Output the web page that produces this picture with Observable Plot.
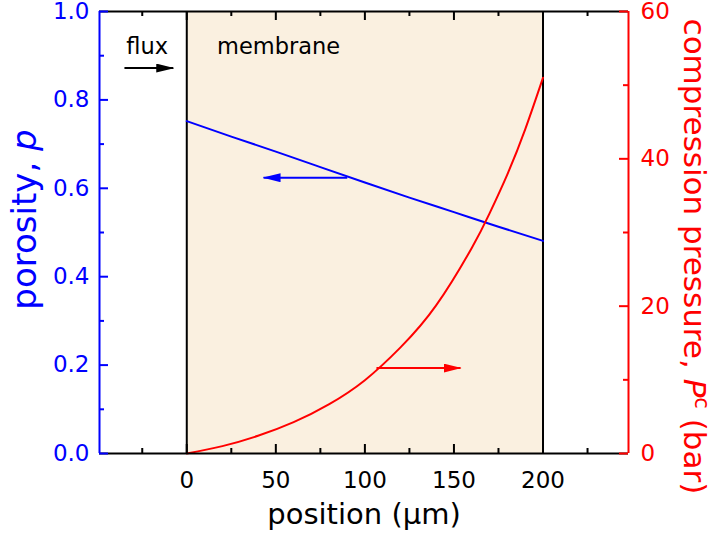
<!DOCTYPE html>
<html><head><meta charset="utf-8">
<script src="https://cdn.jsdelivr.net/npm/d3@7"></script>
<script src="https://cdn.jsdelivr.net/npm/@observablehq/plot@0.6"></script>
<style>
body{margin:0;background:#fff}
#chart svg{display:block}
</style>
</head><body><div id="chart"></div>
<script>
// ---- data ----
const positionDomain = [-49, 248];
const porosityDomain = [0, 1];
const pressureMax = 60;
const membraneEdges = [0, 200];
const porosityX = [0, 25, 50, 75, 100, 125, 150, 175, 200];
const porosityY = [0.752, 0.717, 0.683, 0.648, 0.613, 0.579, 0.546, 0.513, 0.481];
const pressureX = [0, 20, 40, 60, 80, 100, 120, 140, 160, 170, 180, 190, 200];
const pressureY = [0, 1.0, 2.4, 4.25, 6.7, 9.95, 14.4, 20.1, 27.9, 32.6, 37.9, 44.0, 51.0];
const xMajor = [0, 50, 100, 150, 200];
const xMinor = [-25, 25, 75, 125, 175, 225];
const yLeftMajor = [0, 0.2, 0.4, 0.6, 0.8, 1.0];
const yLeftMinor = [0.1, 0.3, 0.5, 0.7, 0.9];
const yRightMajor = [0, 20, 40, 60];
const yRightMinor = [10, 30, 50];
const labelX = "position (μm)";
const labelLeft = "porosity, p";
const labelRight = "compression pressure, Pc (bar)";
const notes = [
  {x: -34, y: 0.921, text: "flux"},
  {x: 17, y: 0.921, text: "membrane"}
];
const arrowFlux = {x1: -35, x2: -7.6, p: 0.872};
const arrowPorosity = {x1: 90.1, x2: 43.1, p: 0.624};
const arrowPressure = {x1: 106.5, x2: 153.7, P: 11.6};

// ---- layout ----
const W = 713, H = 537, mL = 99, mR = 85, mT = 11, mB = 84;
const frameW = W - mL - mR, frameH = H - mT - mB;
const MAJOR = 9, MINOR = 5;

// ---- build ----
const porosity = porosityX.map((x, i) => ({x, y: porosityY[i]}));
const pressure = pressureX.map((x, i) => ({x, y: pressureY[i] / pressureMax}));
const arrows = [
  {x1: arrowFlux.x1, x2: arrowFlux.x2, y: arrowFlux.p, c: "black"},
  {x1: arrowPorosity.x1, x2: arrowPorosity.x2, y: arrowPorosity.p, c: "blue"},
  {x1: arrowPressure.x1, x2: arrowPressure.x2, y: arrowPressure.P / pressureMax, c: "red"}
];

function triangle(color, context) {
  const m = d3.create("svg:marker")
    .attr("viewBox", "0 -4.5 18 9")
    .attr("markerWidth", 18).attr("markerHeight", 9)
    .attr("markerUnits", "userSpaceOnUse")
    .attr("refX", 17).attr("refY", 0)
    .attr("orient", "auto")
    .attr("fill", color).attr("stroke", "none");
  m.append("path").attr("d", "M0,-4.5L18,0L0,4.5Z");
  return m.node();
}

const tx = (vals, len, side) => Plot.tickX(vals, {x: d => d, stroke: "black", strokeWidth: 2,
  insetTop: side === "bottom" ? frameH - len : 0, insetBottom: side === "top" ? frameH - len : 0});
const ty = (vals, len, side, color) => Plot.tickY(vals, {y: d => d, stroke: color, strokeWidth: 2,
  insetRight: side === "left" ? frameW - len : 0, insetLeft: side === "right" ? frameW - len : 0});
const rightScale = v => v / pressureMax;

const chart = Plot.plot({
  width: W, height: H,
  marginLeft: mL, marginRight: mR, marginTop: mT, marginBottom: mB,
  x: {domain: positionDomain, label: null},
  y: {domain: porosityDomain, label: null},
  style: {fontFamily: "DejaVu Sans", fontSize: "23px", background: "white", overflow: "visible"},
  marks: [
    Plot.rect([membraneEdges], {x1: d => d[0], x2: d => d[1], fill: "#FAF0E0"}),
    Plot.ruleX(membraneEdges, {stroke: "black", strokeWidth: 2}),
    Plot.line(porosity, {x: "x", y: "y", stroke: "blue", strokeWidth: 2, curve: "natural"}),
    Plot.line(pressure, {x: "x", y: "y", stroke: "red", strokeWidth: 2, curve: "natural"}),
    Plot.ruleY([porosityDomain[0], porosityDomain[1]], {stroke: "black", strokeWidth: 2}),
    Plot.ruleX([positionDomain[0]], {stroke: "blue", strokeWidth: 2}),
    Plot.ruleX([positionDomain[1]], {stroke: "red", strokeWidth: 2}),
    // inward ticks
    tx(xMajor, MAJOR, "bottom"),
    tx(xMinor, MINOR, "bottom"),
    tx(xMajor, MAJOR, "top"),
    tx(xMinor, MINOR, "top"),
    ty(yLeftMajor, MAJOR, "left", "blue"),
    ty(yLeftMinor, MINOR, "left", "blue"),
    ty(yRightMajor.map(rightScale), MAJOR, "right", "red"),
    ty(yRightMinor.map(rightScale), MINOR, "right", "red"),
    // tick labels
    Plot.axisX(xMajor, {anchor: "bottom", tickSize: 0, tickPadding: 18, fill: "black", fontSize: 23, label: null}),
    Plot.axisY(yLeftMajor, {anchor: "left", tickSize: 0, tickPadding: 10, fill: "blue", fontSize: 23, tickFormat: d3.format(".1f"), label: null}),
    Plot.axisY(yRightMajor.map(rightScale), {anchor: "right", tickSize: 0, tickPadding: 12, fill: "red", fontSize: 23, tickFormat: d => String(Math.round(d * pressureMax)), label: null}),
    // arrows
    Plot.link(arrows, {x1: "x1", x2: "x2", y1: "y", y2: "y", stroke: "c", strokeWidth: 2, markerEnd: triangle}),
    // annotations
    Plot.text(notes, {x: "x", y: "y", text: "text", textAnchor: "start", lineAnchor: "middle", fontSize: 22.5, fill: "black"}),
    // axis titles
    Plot.text([labelX], {text: d => d, frameAnchor: "bottom", textAnchor: "middle", lineAnchor: "middle", dy: 61, fontSize: 29, fill: "black"}),
    Plot.text([labelLeft], {text: d => d, frameAnchor: "left", textAnchor: "middle", lineAnchor: "middle", rotate: -90, dx: -74, dy: -13, fontSize: 34, fill: "blue"}),
    Plot.text([labelRight], {text: d => d, frameAnchor: "right", textAnchor: "middle", lineAnchor: "middle", rotate: 90, dx: 65, dy: 24, fontSize: 31, fill: "red"})
  ]
});
document.getElementById("chart").appendChild(chart);

// italic / superscript parts of axis titles
d3.select(chart).selectAll("text").each(function () {
  const t = d3.select(this);
  const s = t.text();
  if (s === labelLeft) {
    t.text("porosity, ");
    t.append("tspan").attr("font-style", "italic").text("p");
  } else if (s === labelRight) {
    t.text("compression pressure, ");
    t.append("tspan").attr("font-style", "italic").text("P");
    t.append("tspan").attr("font-size", "0.68em").attr("dy", "-0.55em").text("c");
    t.append("tspan").attr("dy", "0.374em").text(" (bar)");
  }
});
</script>
</body></html>
